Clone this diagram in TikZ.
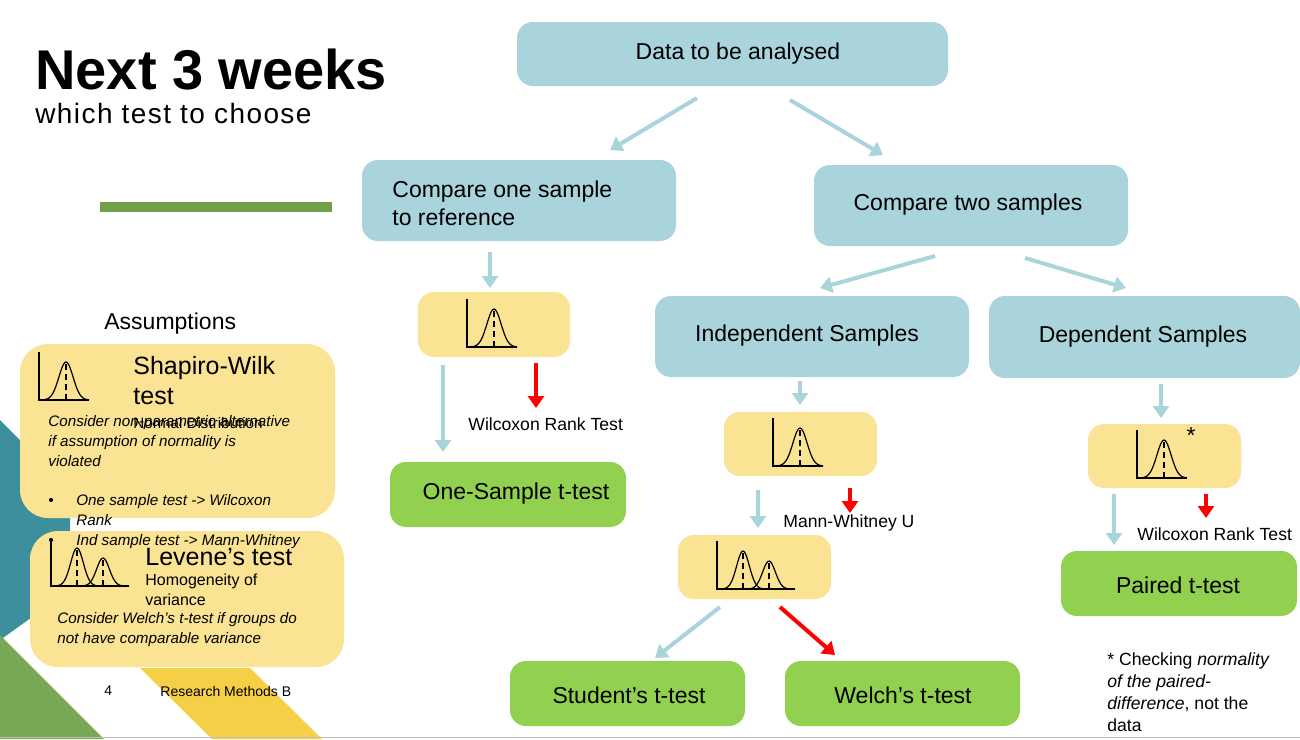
\documentclass[tikz,border=0pt]{standalone}
\usepackage{fontspec}
\setmainfont{Liberation Sans}
\usetikzlibrary{arrows.meta}
\definecolor{tealbox}{HTML}{A9D4DC}
\definecolor{yelbox}{HTML}{FAE392}
\definecolor{grnbox}{HTML}{92D050}
\definecolor{tealbg}{HTML}{3E8F9E}
\definecolor{grnbg}{HTML}{7AA755}
\definecolor{yelbg}{HTML}{F5CF45}
\definecolor{olive}{HTML}{70A04A}
\newcommand{\bul}{\makebox[14pt][l]{\textbullet}}
\tikzset{
 tarr/.style={draw=tealbox, line width=2pt, -{Triangle[length=6pt,width=8pt]}},
 rarr/.style={draw=red, line width=2pt, -{Triangle[length=6pt,width=8pt]}},
 lab/.style={font=\fontsize{11.5}{14}\selectfont, inner sep=0pt},
 sml/.style={font=\fontsize{8.8}{10}\selectfont, inner sep=0pt, anchor=west},
 ital/.style={font=\fontsize{7.6}{10}\itshape\selectfont, inner sep=0pt, align=left},
 pics/bell/.style={code={
   \draw[line width=0.8pt] (0,-48) -- (0,0) -- (50,0);
   \draw[line width=0.6pt] plot[domain=3:50,samples=40,smooth] (\x,{-38*exp(-((\x-27)/10)^2)});
   \draw[line width=0.6pt,densely dashed] (27,-36) -- (27,0);
 }},
 pics/bell2/.style={code={
   \draw[line width=0.8pt] (0,-48) -- (0,0) -- (78,0);
   \draw[line width=0.6pt] plot[domain=3:50,samples=40,smooth] (\x,{-38*exp(-((\x-26)/9)^2)});
   \draw[line width=0.6pt] plot[domain=28:78,samples=40,smooth] (\x,{-28*exp(-((\x-52)/9)^2)});
   \draw[line width=0.6pt,densely dashed] (26,-36) -- (26,0);
   \draw[line width=0.6pt,densely dashed] (52,-26) -- (52,0);
 }},
}
\begin{document}
\begin{tikzpicture}[x=0.5pt,y=-0.5pt]
\useasboundingbox (0,0) rectangle (1300,739);
% background decorations
\fill[tealbg] (0,420) -- (70,490) -- (70,590) -- (0,640) -- cycle;
\fill[grnbg] (0,635) -- (104,739) -- (0,739) -- cycle;
\fill[yelbg] (140,668) -- (250,668) -- (322,739) -- (212,739) -- cycle;
\fill[olive] (100,202) rectangle (332,212);
\draw[gray!50] (0,737) -- (1300,737);
% title
\node[anchor=west,inner sep=0pt,font=\fontsize{28}{30}\bfseries\selectfont] (title) at (35,70) {Next 3 weeks};
\node[anchor=west,inner sep=0pt,font=\fontsize{14}{16}\selectfont\addfontfeature{LetterSpace=5}] (sub) at (35,113) {which test to choose};
% flow boxes
\fill[tealbox,rounded corners=8pt] (517,22) rectangle (948,86);
\node[lab] (data) at (738,54) {Data to be analysed};
\fill[tealbox,rounded corners=8pt] (362,160) rectangle (676,241);
\node[lab,anchor=west,align=left] (one) at (392,203) {Compare one sample\\to reference};
\fill[tealbox,rounded corners=8pt] (814,165) rectangle (1128,246);
\node[lab] (two) at (968,205) {Compare two samples};
\fill[tealbox,rounded corners=8pt] (655,296) rectangle (969,377);
\node[lab] (ind) at (807,336) {Independent Samples};
\fill[tealbox,rounded corners=8pt] (989,296) rectangle (1300,378);
\node[lab] (dep) at (1143,337) {Dependent Samples};
\fill[yelbox,rounded corners=8pt] (418,292) rectangle (570,357);
\pic at (467,347) {bell};
\fill[yelbox,rounded corners=8pt] (724,412) rectangle (877,476);
\pic at (773,466) {bell};
\fill[yelbox,rounded corners=8pt] (678,535) rectangle (831,599);
\pic at (717,589) {bell2};
\fill[yelbox,rounded corners=8pt] (1088,424) rectangle (1241,488);
\pic at (1137,478) {bell};
\node[lab] at (1191,436) {*};
\fill[grnbox,rounded corners=8pt] (390,462) rectangle (626,527);
\node[lab] (ost) at (516,494) {One-Sample t-test};
\fill[grnbox,rounded corners=8pt] (510,661) rectangle (745,726);
\node[lab] (stu) at (629,695) {Student’s t-test};
\fill[grnbox,rounded corners=8pt] (785,661) rectangle (1020,726);
\node[lab] (wel) at (903,695) {Welch’s t-test};
\fill[grnbox,rounded corners=8pt] (1061,551) rectangle (1297,616);
\node[lab] (pai) at (1178,585) {Paired t-test};
% arrows
\draw[tarr] (697,98) -- (610,150);
\draw[tarr] (790,100) -- (883,155);
\draw[tarr] (490,252) -- (490,288);
\draw[tarr] (935,256) -- (820,288);
\draw[tarr] (1025,258) -- (1126,288);
\draw[tarr] (800,381) -- (800,405);
\draw[tarr] (1161,384) -- (1161,418);
\draw[tarr] (443,365) -- (443,452);
\draw[tarr] (758,490) -- (758,528);
\draw[tarr] (1114,494) -- (1114,545);
\draw[tarr] (720,607) -- (655,658);
\draw[rarr] (536,363) -- (536,408);
\draw[rarr] (850,488) -- (850,513);
\draw[rarr] (1206,494) -- (1206,518);
\draw[rarr] (780,607) -- (835,655);
\node[sml] (wr) at (468,424) {Wilcoxon Rank Test};
\node[sml] (mw) at (783,523) {Mann-Whitney U};
\node[sml] (wr2) at (1137,534) {Wilcoxon Rank Test};
\node[sml,anchor=north west,align=left,font=\fontsize{8.8}{11}\selectfont] (note) at (1107,652) {* Checking \textit{normality}\\\textit{of the paired-}\\\textit{difference}, not the\\data};
% assumptions
\node[anchor=west,inner sep=0pt,font=\fontsize{11.5}{13}\selectfont] (ass) at (104,324) {Assumptions};
\fill[yelbox,rounded corners=14pt] (20,344) rectangle (335,518);
\fill[yelbox,rounded corners=14pt] (30,531) rectangle (344,667);
\pic at (39,400) {bell};
\node[anchor=north west,inner sep=0pt,align=left,font=\fontsize{12.5}{15}\selectfont] (sw) at (133,356) {Shapiro-Wilk\\test};
\node[anchor=west,inner sep=0pt,font=\fontsize{7.6}{9}\selectfont] (nd) at (133,423) {Normal Distribution};
\node[ital,anchor=north west] (cons) at (48,415) {Consider non-parametric alternative\\if assumption of normality is\\violated};
\node[ital,anchor=north west] (b1) at (48,494) {\bul One sample test -> Wilcoxon\\\hspace*{14pt}Rank\\\bul Ind sample test -> Mann-Whitney};
\pic at (51,586) {bell2};
\node[anchor=west,inner sep=0pt,font=\fontsize{12.5}{14}\selectfont] (lev) at (145,557) {Levene’s test};
\node[anchor=north west,inner sep=0pt,align=left,font=\fontsize{8}{10}\selectfont] (hom) at (145,573) {Homogeneity of\\variance};
\node[ital,anchor=north west] (wc) at (57,612) {Consider Welch’s t-test if groups do\\not have comparable variance};
\node[anchor=west,inner sep=0pt,font=\fontsize{7}{8}\selectfont] (pg) at (104,691) {4};
\node[anchor=west,inner sep=0pt,font=\fontsize{7}{8}\selectfont] (rm) at (160,691) {Research Methods B};
\end{tikzpicture}
\end{document}
